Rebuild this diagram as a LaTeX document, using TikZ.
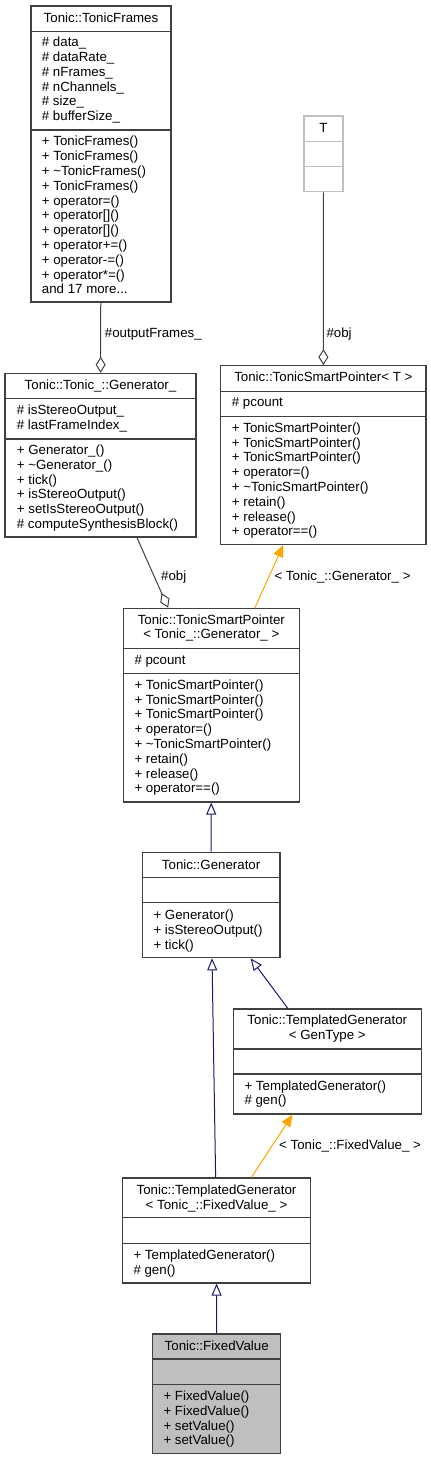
\documentclass[tikz,border=0pt]{standalone}
\usepackage{fontspec}
\setmainfont{Liberation Sans}
\usetikzlibrary{arrows.meta}
\definecolor{navy}{HTML}{191970}
\definecolor{tplorange}{HTML}{FFA500}
\definecolor{boxgrey}{HTML}{BFBFBF}

\begin{document}
\begin{tikzpicture}[x=1pt,y=-1pt,
 every node/.style={font=\fontsize{13.3}{14.8}\selectfont,inner sep=0pt},
 cls/.style={draw=black!75,line width=1.2pt,fill=white},
 sep/.style={draw=black!75,line width=1.2pt},
 ttl/.style={anchor=base,align=center},
 mem/.style={anchor=base west,align=left},
 lbl/.style={anchor=base west},
 agg/.style={draw=black!75,line width=1pt,-{Diamond[open,length=16pt,width=10pt]}},
 inh/.style={draw=navy,line width=1pt,-{Triangle[open,length=12pt,width=10pt]}},
 tpl/.style={draw=tplorange,line width=1pt,-{Triangle[length=12pt,width=10pt]}}]
\useasboundingbox (0,0) rectangle (431,1460);

% Tonic::TonicFrames
\node[cls,minimum width=140pt,minimum height=296pt] (frames) at (101,154) {};
\draw[sep] (frames.west|-0,31.5) -- (frames.east|-0,31.5)
 (frames.west|-0,130) -- (frames.east|-0,130);
\node[ttl] (framesT) at (101,22) {Tonic::TonicFrames};
\node[mem] (framesA) at (41.7,120.7)
 {\# data\_\\\# dataRate\_\\\# nFrames\_\\\# nChannels\_\\\# size\_\\\# bufferSize\_};
\node[mem] (framesM) at (41.7,293.8)
 {+ TonicFrames()\\+ TonicFrames()\\+ \textasciitilde TonicFrames()\\+ TonicFrames()\\
  + operator=()\\+ operator[]()\\+ operator[]()\\+ operator+=()\\+ operator-=()\\
  + operator*=()\\and 17 more...};

% T
\node[cls,draw=boxgrey,minimum width=39pt,minimum height=75.7pt] (tparam) at (323.5,153.8) {};
\draw[sep,draw=boxgrey] (tparam.west|-0,141.3) -- (tparam.east|-0,141.3)
 (tparam.west|-0,166.3) -- (tparam.east|-0,166.3);
\node[ttl] (tparamT) at (323.5,132) {T};

% Tonic::Tonic_::Generator_
\node[cls,minimum width=191pt,minimum height=163.7pt] (genbase) at (100.5,455.2) {};
\draw[sep] (genbase.west|-0,398.7) -- (genbase.east|-0,398.7)
 (genbase.west|-0,439) -- (genbase.east|-0,439);
\node[ttl] (genbaseT) at (100.5,389.3) {Tonic::Tonic\_::Generator\_};
\node[mem] (genbaseA) at (16.7,429) {\# isStereoOutput\_\\\# lastFrameIndex\_};
\node[mem] (genbaseM) at (16.7,528.5)
 {+ Generator\_()\\+ \textasciitilde Generator\_()\\+ tick()\\+ isStereoOutput()\\
  + setIsStereoOutput()\\\# computeSynthesisBlock()};

% Tonic::TonicSmartPointer< T >
\node[cls,minimum width=205.3pt,minimum height=178.6pt] (sptrT) at (323.35,455) {};
\draw[sep] (sptrT.west|-0,391.7) -- (sptrT.east|-0,391.7)
 (sptrT.west|-0,416.7) -- (sptrT.east|-0,416.7);
\node[ttl] (sptrTT) at (323.35,381.7) {Tonic::TonicSmartPointer< T >};
\node[mem] (sptrTA) at (231.7,406.7) {\# pcount};
\node[mem] (sptrTM) at (231.7,535.8)
 {+ TonicSmartPointer()\\+ TonicSmartPointer()\\+ TonicSmartPointer()\\+ operator=()\\
  + \textasciitilde TonicSmartPointer()\\+ retain()\\+ release()\\+ operator==()};

% Tonic::TonicSmartPointer< Tonic_::Generator_ >
\node[cls,minimum width=176pt,minimum height=193.7pt] (sptrG) at (211.3,705.2) {};
\draw[sep] (sptrG.west|-0,648.7) -- (sptrG.east|-0,648.7)
 (sptrG.west|-0,673.7) -- (sptrG.east|-0,673.7);
\node[ttl] (sptrGT) at (211.3,638.9) {Tonic::TonicSmartPointer\\< Tonic\_::Generator\_ >};
\node[mem] (sptrGA) at (134.3,664) {\# pcount};
\node[mem] (sptrGM) at (134.3,792.8)
 {+ TonicSmartPointer()\\+ TonicSmartPointer()\\+ TonicSmartPointer()\\+ operator=()\\
  + \textasciitilde TonicSmartPointer()\\+ retain()\\+ release()\\+ operator==()};

% Tonic::Generator
\node[cls,minimum width=137.7pt,minimum height=105.4pt] (gen) at (211.15,905) {};
\draw[sep] (gen.west|-0,877.7) -- (gen.east|-0,877.7)
 (gen.west|-0,902.7) -- (gen.east|-0,902.7);
\node[ttl] (genT) at (211.15,869) {Tonic::Generator};
\node[mem] (genM) at (153.3,949.1) {+ Generator()\\+ isStereoOutput()\\+ tick()};

% Tonic::TemplatedGenerator< GenType >
\node[cls,minimum width=188pt,minimum height=105pt] (tgenT) at (327.3,1061.5) {};
\draw[sep] (tgenT.west|-0,1049) -- (tgenT.east|-0,1049)
 (tgenT.west|-0,1074) -- (tgenT.east|-0,1074);
\node[ttl] (tgenTT) at (327.3,1039.5) {Tonic::TemplatedGenerator\\< GenType >};
\node[mem] (tgenTM) at (244.3,1104.8) {+ TemplatedGenerator()\\\# gen()};

% Tonic::TemplatedGenerator< Tonic_::FixedValue_ >
\node[cls,minimum width=188.4pt,minimum height=105pt] (tgenFV) at (216.5,1230.5) {};
\draw[sep] (tgenFV.west|-0,1217.7) -- (tgenFV.east|-0,1217.7)
 (tgenFV.west|-0,1243.3) -- (tgenFV.east|-0,1243.3);
\node[ttl] (tgenFVT) at (216.5,1209.3) {Tonic::TemplatedGenerator\\< Tonic\_::FixedValue\_ >};
\node[mem] (tgenFVM) at (133.3,1274.3) {+ TemplatedGenerator()\\\# gen()};

% Tonic::FixedValue
\node[cls,fill=boxgrey,minimum width=128pt,minimum height=119.3pt] (fixed) at (216.7,1393.7) {};
\draw[sep] (fixed.west|-0,1359) -- (fixed.east|-0,1359)
 (fixed.west|-0,1384.7) -- (fixed.east|-0,1384.7);
\node[ttl] (fixedT) at (216.7,1350) {Tonic::FixedValue};
\node[mem] (fixedM) at (163.3,1444.9)
 {+ FixedValue()\\+ FixedValue()\\+ setValue()\\+ setValue()};

% connectors
\draw[agg] (frames) -- (genbase);
\draw[agg] (tparam) -- (sptrT);
\draw[agg] (genbase) -- (sptrG);
\draw[tpl] (sptrG) -- (sptrT);
\draw[inh] (gen) -- (sptrG);
\draw[inh] (tgenT) -- (gen);
\draw[inh] (tgenFV) -- (gen);
\draw[tpl] (tgenFV) -- (tgenT);
\draw[inh] (fixed) -- (tgenFV);
\node[lbl] (outLbl) at (104.7,337.2) {\#outputFrames\_};
\node[lbl] (objLbl) at (326.3,337.2) {\#obj};
\node[lbl] (objLblB) at (161,580.5) {\#obj};
\node[lbl] (genLbl) at (274.3,580.5) {< Tonic\_::Generator\_ >};
\node[lbl] (fvLbl) at (279,1149.3) {< Tonic\_::FixedValue\_ >};
\end{tikzpicture}
\end{document}
